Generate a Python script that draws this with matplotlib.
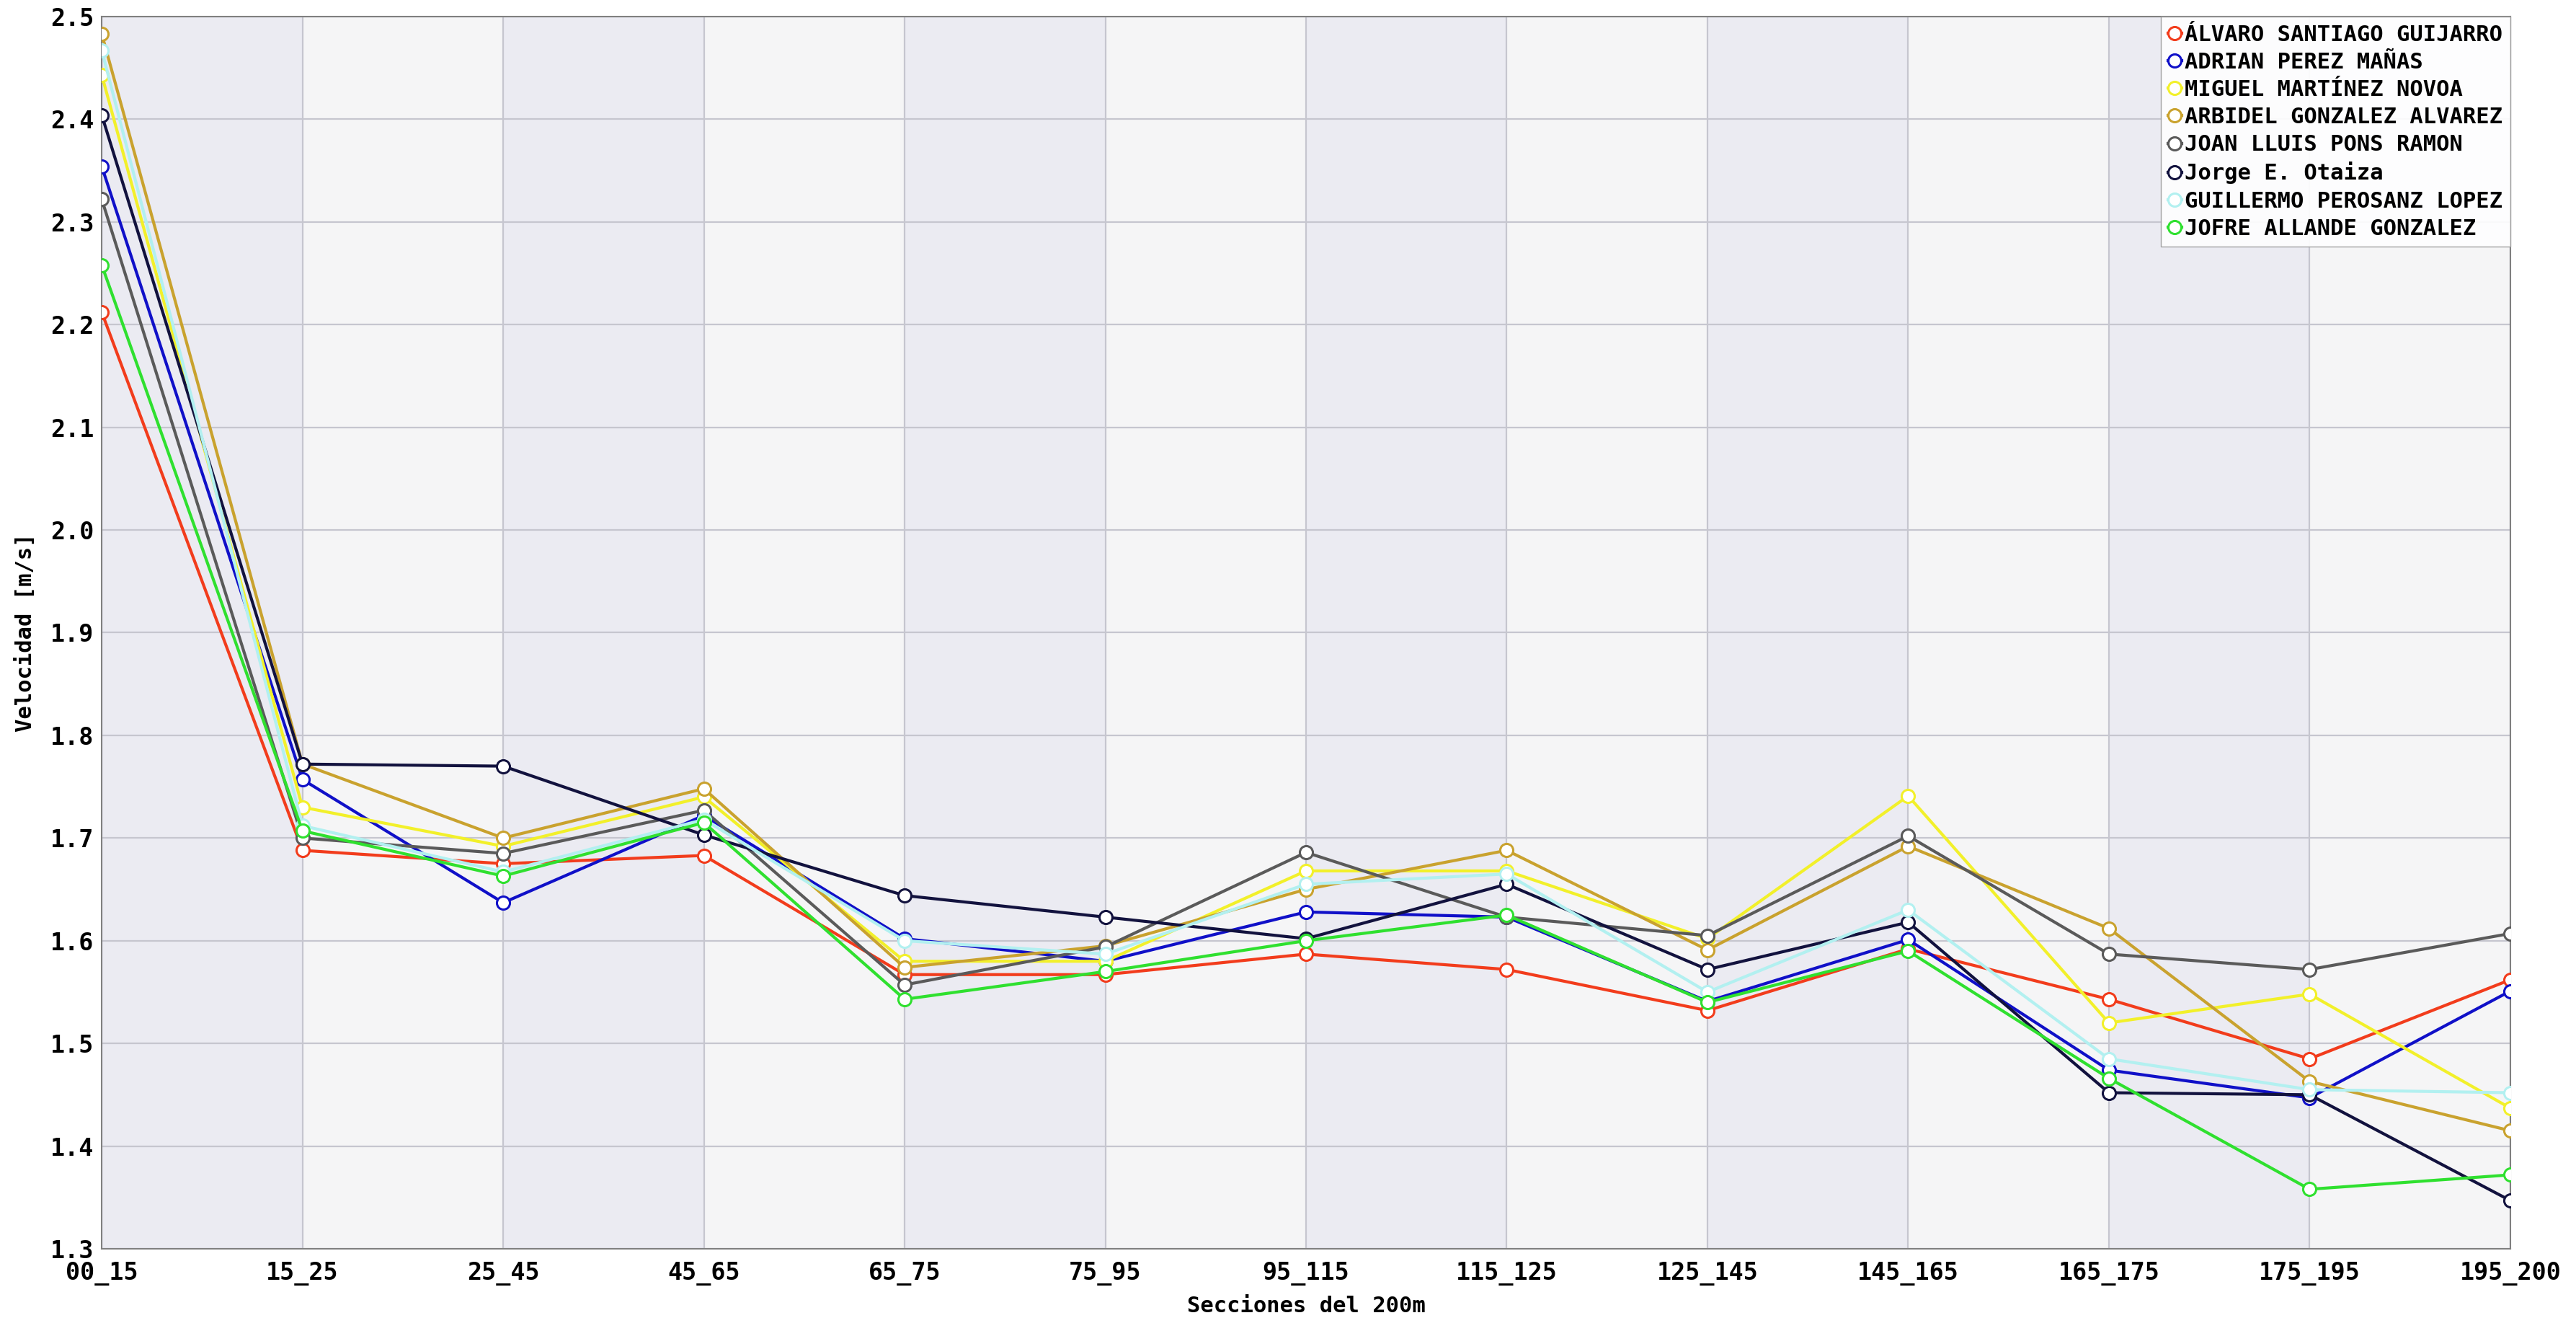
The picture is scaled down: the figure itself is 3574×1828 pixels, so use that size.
import matplotlib
matplotlib.use("Agg")
import matplotlib.pyplot as plt
import numpy as np

# secciones del 200m
secciones = ["00_15", "15_25", "25_45", "45_65", "65_75", "75_95", "95_115",
             "115_125", "125_145", "145_165", "165_175", "175_195", "195_200"]

nadadores = ["ÁLVARO SANTIAGO GUIJARRO", "ADRIAN PEREZ MAÑAS", "MIGUEL MARTÍNEZ NOVOA",
             "ARBIDEL GONZALEZ ALVAREZ", "JOAN LLUIS PONS RAMON", "Jorge E. Otaiza",
             "GUILLERMO PEROSANZ LOPEZ", "JOFRE ALLANDE GONZALEZ"]

alvaro = [2.212, 1.688, 1.675, 1.683, 1.567, 1.567, 1.587, 1.572, 1.532, 1.592, 1.543, 1.485, 1.562]
adrian = [2.354, 1.757, 1.637, 1.722, 1.602, 1.580, 1.628, 1.623, 1.541, 1.601, 1.474, 1.447, 1.551]
miguel = [2.443, 1.730, 1.692, 1.740, 1.580, 1.580, 1.668, 1.668, 1.602, 1.741, 1.520, 1.548, 1.437]
arbidel = [2.483, 1.772, 1.700, 1.748, 1.574, 1.595, 1.650, 1.688, 1.591, 1.692, 1.612, 1.463, 1.415]
joan = [2.322, 1.700, 1.685, 1.727, 1.557, 1.594, 1.686, 1.623, 1.605, 1.702, 1.587, 1.572, 1.607]
jorge = [2.404, 1.772, 1.770, 1.703, 1.644, 1.623, 1.602, 1.655, 1.572, 1.618, 1.452, 1.450, 1.347]
guillermo = [2.467, 1.712, 1.667, 1.718, 1.600, 1.587, 1.655, 1.665, 1.550, 1.630, 1.485, 1.455, 1.452]
jofre = [2.258, 1.707, 1.663, 1.715, 1.543, 1.570, 1.600, 1.625, 1.540, 1.590, 1.466, 1.358, 1.372]

velocidades = [alvaro, adrian, miguel, arbidel, joan, jorge, guillermo, jofre]
colores = ["#f23c1c", "#1010c8", "#f2f02a", "#c9a22e", "#5a5a5a", "#12123e", "#b2f0f0", "#2fe02f"]

plt.rcParams["font.family"] = ["DejaVu Sans Mono"]
plt.rcParams["font.weight"] = "bold"

fig = plt.figure(figsize=(35.74, 18.28), dpi=100)
ax = fig.add_axes([0.0395, 0.0525, 0.935, 0.935])

x = np.arange(len(secciones))

# bandas de fondo alternadas
for i in range(len(secciones) - 1):
    ax.axvspan(i, i + 1, color="#ebebf2" if i % 2 == 0 else "#f5f5f6", lw=0, zorder=0)

for nombre, v, c in zip(nadadores, velocidades, colores):
    ax.plot(x, v, color=c, lw=3.0, marker="o", markersize=13, markeredgewidth=2.2,
            markerfacecolor="white", markeredgecolor=c, label=nombre, zorder=3)

ax.set_xlim(0, len(secciones) - 1)
ax.set_ylim(1.3, 2.5)
ax.set_xticks(x)
ax.set_xticklabels(secciones, fontsize=24, fontweight="bold")
ax.set_yticks(np.arange(1.3, 2.51, 0.1))
ax.set_yticklabels([f"{t:.1f}" for t in np.arange(1.3, 2.51, 0.1)], fontsize=24, fontweight="bold")
ax.tick_params(axis="y", length=0, pad=8)
ax.tick_params(axis="x", length=0, pad=13)
ax.grid(True, color="#c6c6cf", lw=1.6, zorder=1)
ax.set_axisbelow(True)
for s in ax.spines.values():
    s.set_color("#808080")
    s.set_linewidth(1.5)

ax.set_xlabel("Secciones del 200m", fontsize=22, fontweight="bold", labelpad=10)
ax.set_ylabel("Velocidad [m/s]", fontsize=22, fontweight="bold", labelpad=14)

leg = ax.legend(loc="upper right", borderaxespad=0, handlelength=0.6,
                handletextpad=0.15, labelspacing=0.3, borderpad=0.35, fancybox=False,
                prop={"family": "DejaVu Sans Mono", "weight": "bold", "size": 22})
leg.get_frame().set_edgecolor("#999999")
leg.get_frame().set_alpha(0.9)

fig.savefig("out.png", dpi=100)
